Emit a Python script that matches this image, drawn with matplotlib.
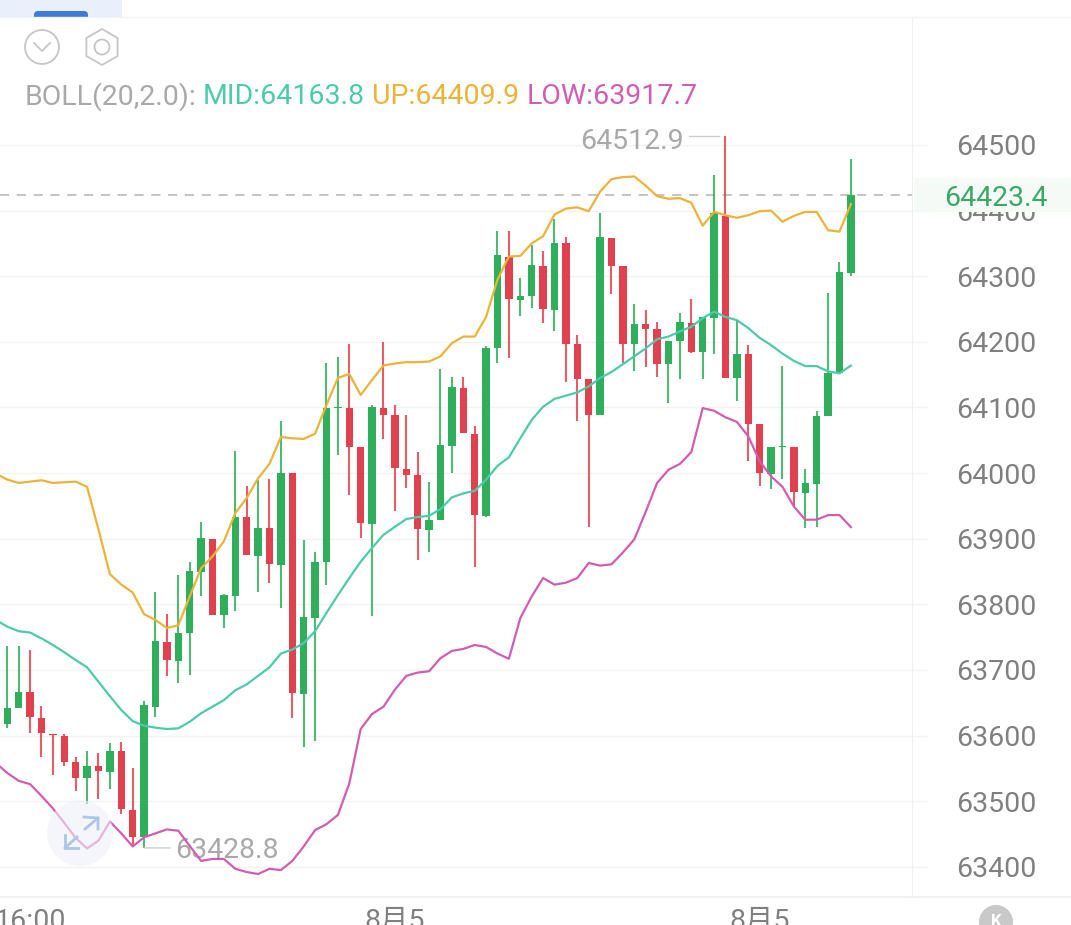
import numpy as np
from matplotlib import pyplot as plt
from matplotlib.patches import Circle, Polygon, Rectangle, FancyBboxPatch

plt.rcParams["font.family"] = ["Roboto", "Noto Sans CJK SC", "DejaVu Sans"]

opens = [63618, 63642, 63666, 63627, 63603, 63600, 63560, 63536, 63553, 63545,
         63576, 63487, 63445, 63644, 63743, 63714, 63756, 63850, 63900, 63784,
         63813, 63933, 63874, 63916, 63860, 64000, 63664, 63779, 63865, 64099,
         64099, 64039, 63923, 64099, 64088, 64006, 63997, 63914, 63929, 64042,
         64130, 64060, 63935, 64190, 64330, 64264, 64270, 64316, 64249, 64351,
         64197, 64143, 64089, 64358, 64316, 64196, 64227, 64220, 64166, 64201,
         64229, 64185, 64237, 64392, 64145, 64181, 64075, 63999, 64040, 64040,
         63970, 63984, 64087, 64152, 64305]
closes = [63642, 63667, 63628, 63604, 63601, 63560, 63536, 63553, 63546, 63577,
          63488, 63445, 63646, 63744, 63715, 63757, 63851, 63901, 63784, 63814,
          63933, 63875, 63916, 63861, 64000, 63665, 63780, 63865, 64099, 64100,
          64039, 63924, 64100, 64088, 64007, 63997, 63915, 63929, 64043, 64131,
          64061, 63936, 64191, 64332, 64265, 64270, 64317, 64250, 64351, 64197,
          64144, 64089, 64359, 64316, 64197, 64227, 64220, 64166, 64202, 64230,
          64185, 64238, 64397, 64145, 64182, 64075, 64000, 64040, 64041, 63971,
          63985, 64087, 64152, 64306, 64423.4]
highs = [63737, 63737, 63730, 63645, 63603, 63603, 63568, 63577, 63573, 63589,
         63590, 63551, 63652, 63819, 63785, 63845, 63865, 63926, 63900, 63816,
         64034, 63980, 63989, 63991, 64080, 64000, 63898, 63880, 64168, 64177,
         64197, 64039, 64104, 64199, 64104, 64088, 64032, 63987, 64159, 64146,
         64146, 64072, 64194, 64369, 64369, 64298, 64348, 64338, 64387, 64359,
         64211, 64143, 64397, 64358, 64316, 64258, 64249, 64230, 64202, 64244,
         64266, 64238, 64454, 64512.9, 64233, 64195, 64075, 64040, 64163, 64040,
         64006, 64094, 64274, 64321, 64479]
lows = [63612, 63642, 63604, 63568, 63540, 63553, 63515, 63496, 63504, 63519,
        63481, 63432, 63428.8, 63629, 63691, 63680, 63692, 63812, 63784, 63764,
        63790, 63875, 63819, 63833, 63794, 63627, 63583, 63591, 63830, 64028,
        63967, 63901, 63782, 64052, 63942, 63977, 63867, 63880, 63929, 64000,
        64061, 63857, 63933, 64167, 64175, 64239, 64251, 64229, 64217, 64139,
        64080, 63918, 64089, 64273, 64168, 64156, 64162, 64146, 64107, 64143,
        64183, 64143, 64182, 64145, 64110, 64018, 63980, 63975, 63991, 63950,
        63917, 63918, 64087, 64152, 64301]

# bands start one bar before the first visible candle
boll_mid = [63776, 63766, 63759, 63757, 63748, 63738, 63727, 63715, 63704, 63682,
            63660, 63639, 63622, 63615, 63612, 63610, 63611, 63621, 63634, 63644,
            63654, 63669, 63678, 63691, 63704, 63725, 63731, 63741, 63759, 63787,
            63814, 63840, 63865, 63886, 63906, 63918, 63930, 63933, 63935, 63945,
            63963, 63969, 63973, 63990, 64011, 64024, 64053, 64081, 64101, 64113,
            64118, 64123, 64132, 64145, 64154, 64166, 64178, 64190, 64204, 64208,
            64216, 64223, 64236, 64246, 64238, 64233, 64221, 64206, 64195, 64182,
            64171, 64163, 64163, 64155, 64152, 64163.8]
boll_up = [63999, 63990, 63985, 63987, 63989, 63985, 63986, 63987, 63979, 63914,
           63846, 63830, 63818, 63785, 63776, 63764, 63768, 63812, 63855, 63873,
           63896, 63939, 63962, 63992, 64014, 64055, 64053, 64052, 64060, 64104,
           64145, 64151, 64119, 64142, 64164, 64167, 64169, 64169, 64170, 64178,
           64198, 64208, 64208, 64238, 64295, 64330, 64331, 64350, 64361, 64394,
           64403, 64405, 64399, 64429, 64448, 64451, 64452, 64438, 64422, 64418,
           64419, 64412, 64377, 64398, 64393, 64389, 64393, 64399, 64400, 64383,
           64392, 64398, 64398, 64370, 64368, 64409.9]
boll_low = [63558, 63543, 63531, 63526, 63508, 63489, 63467, 63444, 63428, 63440,
            63469, 63451, 63431, 63445, 63451, 63457, 63455, 63432, 63409, 63412,
            63412, 63397, 63392, 63389, 63397, 63395, 63409, 63431, 63456, 63465,
            63479, 63527, 63610, 63633, 63644, 63670, 63691, 63696, 63698, 63718,
            63729, 63732, 63738, 63735, 63725, 63717, 63779, 63812, 63840, 63830,
            63833, 63840, 63863, 63859, 63861, 63879, 63899, 63941, 63985, 64005,
            64014, 64032, 64099, 64095, 64085, 64078, 64056, 64018, 63995, 63979,
            63949, 63929, 63929, 63936, 63936, 63917.7]

price_ticks = [63400, 63500, 63600, 63700, 63800, 63900, 64000,
               64100, 64200, 64300, 64400, 64500]
time_ticks = [2, 34, 66]
time_labels = ["16:00", "8月5", "8月5"]

GREEN = "#2fae5c"
RED = "#e0414f"
TEAL = "#4ccbaa"
YELLOW = "#ebb338"
PINK = "#d25db0"
GRID = "#f3f3f3"
FS = 20.5

W, H = 1071, 925
fig = plt.figure(figsize=(W / 100, H / 100), dpi=100, facecolor="white")
ax = fig.add_axes([0, (H - 897) / H, 912 / W, 880 / H])

idx = np.arange(len(opens))
band_idx = np.arange(-1, len(opens))
o = np.array(opens)
c = np.array(closes)
colors = [GREEN if b >= a else RED for a, b in zip(opens, closes)]

ax.set_axisbelow(True)
ax.grid(axis="y", color=GRID, lw=1)
ax.axhline(closes[-1], color="#b4b4b4", lw=1.1, dashes=(6, 5), zorder=1)

ax.vlines(idx, lows, highs, colors=colors, lw=1.5, alpha=0.85, zorder=2)
ax.bar(idx, np.maximum(np.abs(c - o), 2), bottom=np.minimum(o, c), width=0.66,
       color=colors, zorder=3)

ax.plot(band_idx, boll_up, color=YELLOW, lw=1.6, zorder=4)
ax.plot(band_idx, boll_mid, color=TEAL, lw=1.6, zorder=4)
ax.plot(band_idx, boll_low, color=PINK, lw=1.6, zorder=4)

ax.set_xlim(-0.64, 79.36)
ax.set_ylim(63354, 64695)
ax.set_yticks(price_ticks)
ax.set_xticks(time_ticks)
ax.set_xticklabels(time_labels)
ax.yaxis.tick_right()
ax.tick_params(axis="y", length=11.5, width=1, color=GRID, pad=20,
               labelsize=FS, labelcolor="#808080")
ax.tick_params(axis="x", length=0, pad=8, labelsize=FS, labelcolor="#808080")
for side in ["top", "left", "bottom"]:
    ax.spines[side].set_visible(False)
ax.spines["right"].set_color("#efefef")

# high / low call-outs, leader drawn apart so it stays level
ax.annotate("64512.9", xy=(63, max(highs)), xytext=(-42, -2), textcoords="offset pixels",
            ha="right", va="center_baseline", fontsize=FS, color="#a9a9a9", annotation_clip=False)
ax.annotate("", xy=(63, max(highs)), xytext=(-36, 0), textcoords="offset pixels",
            annotation_clip=False,
            arrowprops=dict(arrowstyle="-", color="#cccccc", lw=1, shrinkA=0, shrinkB=4))
ax.annotate("63428.8", xy=(12, min(lows)), xytext=(31, 0), textcoords="offset pixels",
            ha="left", va="center_baseline", fontsize=FS, color="#a9a9a9", annotation_clip=False)
ax.annotate("", xy=(12, min(lows)), xytext=(26, 0), textcoords="offset pixels",
            annotation_clip=False,
            arrowprops=dict(arrowstyle="-", color="#cccccc", lw=1, shrinkA=0, shrinkB=0))

# last price tag sits on top of the 64400 label
tr = ax.get_yaxis_transform()
ax.add_patch(Rectangle((1.002, closes[-1] - 26), 159 / 912, 52, transform=tr,
                       facecolor="#f5faf6", edgecolor="none", clip_on=False, zorder=8))
ax.text(996 / 912, closes[-1], "64423.4", transform=tr, ha="center", va="center_baseline",
        fontsize=FS, color="#3ba866", clip_on=False, zorder=9)

# page furniture, drawn in pixel coordinates
ui = fig.add_axes([0, 0, 1, 1], facecolor="none", zorder=5)
ui.set_xlim(0, W)
ui.set_ylim(H, 0)
ui.axis("off")

ui.add_patch(Rectangle((0, 0), 122, 17, facecolor="#e9f0fb", edgecolor="none"))
ui.add_patch(FancyBboxPatch((34, 11), 54, 10, boxstyle="round,pad=0,rounding_size=4",
                            mutation_aspect=1, facecolor="#3f7bd6", edgecolor="none"))
ui.add_patch(Rectangle((30, 17), 64, 6, facecolor="white", edgecolor="none"))
ui.plot([0, W], [17, 17], color="#f3f3f3", lw=1)
ui.plot([0, W], [897, 897], color="#efefef", lw=1.2)

ICON = "#c6c6c6"
ui.add_patch(Circle((42, 47), 17, facecolor="none", edgecolor=ICON, lw=1.3))
ui.plot([34, 42, 50], [43, 51, 43], color=ICON, lw=1.3)
hex_angles = np.deg2rad(np.arange(30, 390, 60))
ui.add_patch(Polygon(np.c_[102 + 18 * np.cos(hex_angles), 47 + 18 * np.sin(hex_angles)],
                     closed=True, facecolor="none", edgecolor=ICON, lw=1.3))
ui.add_patch(Circle((102, 47), 7.5, facecolor="none", edgecolor=ICON, lw=1.3))

legend_parts = [(25, "BOLL(20,2.0):", "#a9a9a9"), (203, "MID:64163.8", TEAL),
                (372, "UP:64409.9", YELLOW), (527, "LOW:63917.7", PINK)]
for x, label, col in legend_parts:
    ui.text(x, 93, label, ha="left", va="center_baseline", fontsize=FS, color=col)

# zoom button over the plot
ui.add_patch(Circle((80, 833), 33, facecolor="#eef1fa", edgecolor="none", alpha=0.6))
ARROW = "#aec5ea"
ui.plot([84, 98, 98], [817, 818, 829], color=ARROW, lw=2)
ui.plot([85, 98], [829, 818], color=ARROW, lw=2)
ui.plot([65, 65, 78], [835, 848, 848], color=ARROW, lw=2)
ui.plot([77, 65], [837, 848], color=ARROW, lw=2)

# collapse button, cut by the bottom edge
ui.add_patch(Circle((996, 922), 17, facecolor="#c9c9c9", edgecolor="none"))
ui.text(996, 922, "K", ha="center", va="center", fontsize=12, fontweight="bold", color="white")

fig.savefig("out.png", dpi=100)
